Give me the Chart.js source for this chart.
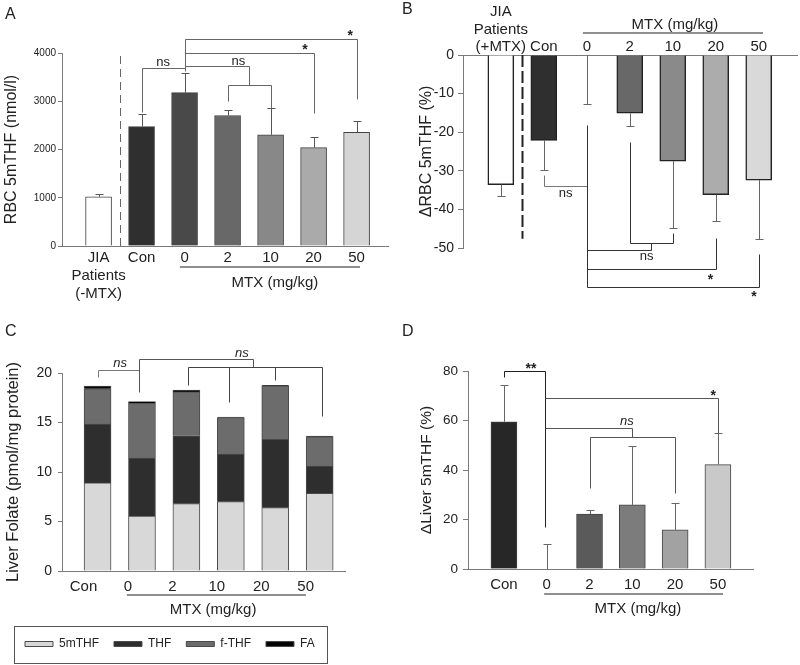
<!DOCTYPE html>
<html>
<head>
<meta charset="utf-8">
<script src="https://cdn.jsdelivr.net/npm/chart.js@4.4.0/dist/chart.umd.min.js"></script>
<style>
  html, body { margin: 0; padding: 0; background: #fff; }
  #fig { position: relative; width: 800px; height: 665px; font-family: "Liberation Sans", Arial, sans-serif; }
  #fig canvas { position: absolute; }
  .tag { position: absolute; font-size: 16px; line-height: 16px; color: #222; }
</style>
</head>
<body>
<div id="fig">
  <canvas id="cA" width="400" height="320" style="left:0;top:0"></canvas>
  <canvas id="cB" width="400" height="320" style="left:400px;top:0"></canvas>
  <canvas id="cC" width="400" height="345" style="left:0;top:320px"></canvas>
  <canvas id="cD" width="400" height="300" style="left:400px;top:320px"></canvas>
  <div class="tag" style="left:5px;top:6px">A</div>
  <div class="tag" style="left:402px;top:1px">B</div>
  <div class="tag" style="left:5px;top:323px">C</div>
  <div class="tag" style="left:402px;top:323px">D</div>
</div>
<script>
const FONT = '"Liberation Sans", Arial, sans-serif';
Chart.defaults.font.family = FONT;
Chart.defaults.color = '#222';
Chart.defaults.animation = false;

// --- Panel A: RBC 5mTHF (nmol/l)
const labelsA = [['JIA', 'Patients', '(-MTX)'], 'Con', '0', '2', '10', '20', '50'];
const rbcA = [1020, 2475, 3180, 2705, 2305, 2040, 2355];
const rbcErrA = [60, 255, 415, 115, 550, 215, 245];

// --- Panel B: change in RBC 5mTHF (%)
const labelsB = [['JIA', 'Patients', '(+MTX)'], 'Con', '0', '2', '10', '20', '50'];
const rbcB = [-33.6, -22.1, 0, -15.1, -27.5, -36.2, -32.4];
const rbcErrB = [2.9, 7.7, 12.8, 3.3, 17.3, 6.9, 15.2];

// --- Panel C: liver folate (pmol/mg protein), stacked
const labelsC = ['Con', '0', '2', '10', '20', '50'];
const mthfC = [8.9, 5.55, 6.8, 7.0, 6.4, 7.85];
const thfC = [5.95, 5.85, 6.85, 4.8, 6.9, 2.75];
const fthfC = [3.55, 5.55, 4.45, 3.7, 5.4, 2.95];
const faC = [0.27, 0.17, 0.17, 0.06, 0.06, 0.08];

// --- Panel D: change in liver 5mTHF (%)
const labelsD = ['Con', '0', '2', '10', '20', '50'];
const liverD = [59.5, 0, 22.2, 25.9, 15.8, 42.2];
const liverErrD = [14.8, 10, 1.5, 23.9, 10.7, 12.6];

const greysA = ['#ffffff', '#2f2f2f', '#494949', '#686868', '#888888', '#aaaaaa', '#d5d5d5'];
const greysB = ['#ffffff', '#2f2f2f', '#ffffff', '#686868', '#8a8a8a', '#acacac', '#d9d9d9'];
const greysD = ['#272727', '#ffffff', '#5a5a5a', '#7c7c7c', '#a2a2a2', '#c9c9c9'];

const AXIS = '#7a7a7a';
const pts = (vals) => vals.map((v, i) => ({ x: i, y: v }));

function xAxis(labels, min, max, o) {
  return {
    type: 'linear', min: min, max: max, offset: false, position: o.position || 'bottom',
    afterBuildTicks: s => { s.ticks = labels.map((_, i) => ({ value: i })); },
    afterFit: s => { s.height = o.height; },
    ticks: {
      callback: v => labels[v], autoSkip: false, maxRotation: 0, minRotation: 0,
      padding: o.pad, labelOffset: o.shift || 0, color: '#222',
      font: { size: 15, lineHeight: o.lh || 1.2 }
    },
    grid: { display: false, drawTicks: false, offset: false },
    border: { color: AXIS }
  };
}

function yAxis(min, max, step, o) {
  return {
    min: min, max: max, position: 'left', stacked: !!o.stacked,
    afterFit: s => { s.width = o.width; },
    ticks: { stepSize: step, padding: o.tpad, color: '#222', font: { size: o.tick }, callback: v => String(v) },
    grid: { drawOnChartArea: false, tickLength: o.tl, color: AXIS },
    border: { color: AXIS },
    title: { display: true, text: o.title, color: '#222', font: { size: o.tsize }, padding: { top: o.titlePad, bottom: 0 } }
  };
}

// error bars, significance brackets, group underline
function marks(cfg) {
  return {
    id: 'marks',
    afterDatasetsDraw(chart) {
      const ctx = chart.ctx;
      const x = chart.scales.x, y = chart.scales.y;
      const X = v => x.getPixelForValue(v);
      const Y = v => y.getPixelForValue(v);
      const crisp = p => Math.round(p) + 0.5;
      ctx.save();
      if (cfg.sep) {
        const s = cfg.sep;
        ctx.strokeStyle = s.color; ctx.lineWidth = s.width; ctx.setLineDash(s.dash);
        ctx.beginPath();
        ctx.moveTo(crisp(X(s.at)), Y(s.from)); ctx.lineTo(crisp(X(s.at)), Y(s.to));
        ctx.stroke();
        ctx.setLineDash([]);
      }
      if (cfg.err) {
        const meta = chart.getDatasetMeta(0);
        const vals = chart.data.datasets[0].data;
        ctx.strokeStyle = cfg.errColor; ctx.lineWidth = 1;
        ctx.beginPath();
        cfg.err.forEach((e, i) => {
          const v = vals[i].y;
          const px = crisp(meta.data[i].x);
          const end = crisp(Y(v + cfg.errSign * e));
          ctx.moveTo(px, Y(v)); ctx.lineTo(px, end);
          ctx.moveTo(px - 4, end); ctx.lineTo(px + 4, end);
        });
        ctx.stroke();
      }
      (cfg.brackets || []).forEach(b => {
        ctx.strokeStyle = b.color || cfg.bracketColor;
        ctx.lineWidth = 1;
        ctx.beginPath();
        b.pts.forEach((p, k) => {
          const cx = crisp(X(p[0])), cy = crisp(Y(p[1]));
          if (k) ctx.lineTo(cx, cy); else ctx.moveTo(cx, cy);
        });
        ctx.stroke();
      });
      ctx.fillStyle = '#222'; ctx.textAlign = 'center'; ctx.textBaseline = 'middle';
      (cfg.notes || []).forEach(n => {
        ctx.font = n.font + ' ' + FONT;
        ctx.fillText(n.text, X(n.x), Y(n.y));
      });
      if (cfg.group) {
        const g = cfg.group;
        const axisY = g.top ? chart.chartArea.top : chart.chartArea.bottom;
        ctx.strokeStyle = '#6a6a6a'; ctx.lineWidth = 1.5;
        ctx.beginPath();
        ctx.moveTo(X(g.from), axisY + g.lineDy); ctx.lineTo(X(g.to), axisY + g.lineDy);
        ctx.stroke();
        ctx.font = '15px ' + FONT;
        ctx.fillText(g.text, X(g.at), axisY + g.textDy);
      }
      ctx.restore();
    }
  };
}

const legendFrame = {
  id: 'legendFrame',
  afterDraw(chart) {
    const boxes = chart.legend && chart.legend.legendHitBoxes;
    if (!boxes || !boxes.length) return;
    const ctx = chart.ctx;
    const l = Math.min(...boxes.map(b => b.left)) - 11;
    const r = Math.max(...boxes.map(b => b.left + b.width)) + 12;
    const cy = boxes[0].top + boxes[0].height / 2;
    ctx.save();
    ctx.strokeStyle = '#555'; ctx.lineWidth = 1;
    ctx.strokeRect(Math.round(l) + 0.5, Math.round(cy - 18.5) + 0.5, Math.round(r - l), 37);
    ctx.restore();
  }
};

const quiet = { legend: { display: false }, tooltip: { enabled: false } };

// Panel A
new Chart(document.getElementById('cA'), {
  type: 'bar',
  data: { datasets: [{ data: pts(rbcA), backgroundColor: greysA, borderColor: '#444', borderWidth: 1, barThickness: 26 }] },
  options: {
    responsive: false, events: [],
    layout: { padding: { top: 53, right: 12, bottom: 0, left: 0 } },
    plugins: quiet,
    scales: {
      x: xAxis(labelsA, -0.85, 6.73, { height: 74, pad: 3 }),
      y: yAxis(0, 4000, 1000, { width: 62, tick: 10, tl: 4, tpad: 2, title: 'RBC 5mTHF (nmol/l)', tsize: 16, titlePad: 2 })
    }
  },
  plugins: [marks({
    sep: { at: 0.5, from: 0, to: 4030, color: '#666', width: 1, dash: [8, 5] },
    err: rbcErrA, errSign: 1, errColor: '#555',
    bracketColor: '#666',
    brackets: [
      { pts: [[1, 2770], [1, 3688], [2, 3688]] },
      { pts: [[2, 3620], [2, 4291], [6, 4291], [6, 3043]] },
      { pts: [[2, 4000], [5, 4000], [5, 2766]] },
      { pts: [[2, 3737], [3.5, 3737], [3.5, 3328]] },
      { pts: [[3, 2995], [3, 3328], [4, 3328], [4, 2870]] }
    ],
    notes: [
      { text: 'ns', x: 1.5, y: 3800, font: '13px' },
      { text: 'ns', x: 3.25, y: 3830, font: '13px' },
      { text: '*', x: 4.8, y: 4066, font: 'bold 14px' },
      { text: '*', x: 5.85, y: 4343, font: 'bold 14px' }
    ],
    group: { from: 1.89, to: 6.08, at: 4.1, lineDy: 21, textDy: 37, text: 'MTX (mg/kg)' }
  })]
});

// Panel B
new Chart(document.getElementById('cB'), {
  type: 'bar',
  data: { datasets: [{ data: pts(rbcB), backgroundColor: greysB, borderColor: '#222', borderWidth: 1.5, barThickness: 26 }] },
  options: {
    responsive: false, events: [],
    layout: { padding: { top: 0, right: 3, bottom: 72, left: 0 } },
    plugins: quiet,
    scales: {
      x: xAxis(labelsB, -0.88, 6.89, { height: 55, pad: -1, position: 'top', lh: 1.17 }),
      y: yAxis(-50, 0, 10, { width: 63, tick: 14, tl: 5, tpad: 4, title: 'ΔRBC 5mTHF (%)', tsize: 16, titlePad: 16.5 })
    }
  },
  plugins: [marks({
    sep: { at: 0.5, from: 0, to: -47.6, color: '#222', width: 2, dash: [12, 4] },
    err: rbcErrB, errSign: -1, errColor: '#666',
    bracketColor: '#333',
    brackets: [
      { pts: [[1, -31], [1, -34], [2, -34]], color: '#777' },
      { pts: [[2, -18.2], [2, -60]] },
      { pts: [[3, -22.5], [3, -48.6], [4, -48.6], [4, -46]] },
      { pts: [[3.5, -48.6], [3.5, -50.6], [2, -50.6]] },
      { pts: [[5, -47.3], [5, -55.4], [2, -55.4]] },
      { pts: [[6, -51.5], [6, -60], [2, -60]] }
    ],
    notes: [
      { text: 'ns', x: 1.51, y: -35.9, font: '13px' },
      { text: 'ns', x: 3.39, y: -52.3, font: '13px' },
      { text: '*', x: 4.88, y: -58.4, font: 'bold 14px' },
      { text: '*', x: 5.89, y: -62.8, font: 'bold 14px' }
    ],
    group: { top: true, from: 1.91, to: 6.1, at: 4.05, lineDy: -22, textDy: -30, text: 'MTX (mg/kg)' }
  })]
});

// Panel C
const stackStyle = { borderColor: '#4a4a4a', borderWidth: 1, barThickness: 27 };
new Chart(document.getElementById('cC'), {
  type: 'bar',
  data: {
    datasets: [
      Object.assign({ label: '5mTHF', data: pts(mthfC), backgroundColor: '#d8d8d8' }, stackStyle),
      Object.assign({ label: 'THF', data: pts(thfC), backgroundColor: '#2e2e2e' }, stackStyle),
      Object.assign({ label: 'f-THF', data: pts(fthfC), backgroundColor: '#6c6c6c' }, stackStyle),
      Object.assign({ label: 'FA', data: pts(faC), backgroundColor: '#050505' }, stackStyle)
    ]
  },
  options: {
    responsive: false, events: [],
    layout: { padding: { top: 53, right: 55, bottom: 5, left: 10 } },
    plugins: {
      tooltip: { enabled: false },
      legend: {
        position: 'bottom', align: 'start',
        labels: { boxWidth: 28, boxHeight: 5, padding: 15, color: '#222', font: { size: 12 } }
      }
    },
    scales: {
      x: Object.assign(xAxis(labelsC, -0.8, 5.57, { height: 52, pad: 7, shift: -14 }), { stacked: true }),
      y: yAxis(0, 20, 5, { width: 52, tick: 14, tl: 4, tpad: 6, title: 'Liver Folate (pmol/mg protein)', tsize: 16.5, titlePad: -6.9, stacked: true })
    }
  },
  plugins: [legendFrame, marks({
    bracketColor: '#444',
    brackets: [
      { pts: [[0.02, 19.6], [0.02, 20.3], [0.94, 20.3]], color: '#777' },
      { pts: [[0.94, 18.1], [0.94, 21.4], [3.5, 21.4], [3.5, 20.57]], color: '#555' },
      { pts: [[2.04, 18.75], [2.04, 20.57], [5.05, 20.57], [5.05, 15.7]] },
      { pts: [[2.95, 20.57], [2.95, 17.1]] },
      { pts: [[4.0, 20.57], [4.0, 19.3]] }
    ],
    notes: [
      { text: 'ns', x: 0.51, y: 20.94, font: 'italic 13px' },
      { text: 'ns', x: 3.25, y: 22.0, font: 'italic 13px' }
    ],
    group: { from: 0.66, to: 4.69, at: 2.6, lineDy: 24, textDy: 39, text: 'MTX (mg/kg)' }
  })]
});

// Panel D
new Chart(document.getElementById('cD'), {
  type: 'bar',
  data: { datasets: [{ data: pts(liverD), backgroundColor: greysD, borderColor: '#444', borderWidth: 1, barThickness: 26 }] },
  options: {
    responsive: false, events: [],
    layout: { padding: { top: 51, right: 47, bottom: 0, left: 0 } },
    plugins: quiet,
    scales: {
      x: xAxis(labelsD, -0.84, 5.82, { height: 51, pad: 7 }),
      y: yAxis(0, 80, 20, { width: 68, tick: 13.5, tl: 5, tpad: 5, title: 'ΔLiver 5mTHF (%)', tsize: 15.5, titlePad: 17.5 })
    }
  },
  plugins: [marks({
    err: liverErrD, errSign: 1, errColor: '#666',
    bracketColor: '#555',
    brackets: [
      { pts: [[0, 77.5], [0, 80.1], [0.95, 80.1], [0.95, 17.1]], color: '#222' },
      { pts: [[0.95, 69.0], [5, 69.0], [5, 54.8]] },
      { pts: [[0.95, 57.1], [3, 57.1], [3, 53.5]] },
      { pts: [[2, 32.6], [2, 53.5], [4, 53.5], [4, 30.6]] }
    ],
    notes: [
      { text: '**', x: 0.63, y: 80.6, font: 'bold 14px' },
      { text: '*', x: 4.89, y: 69.8, font: 'bold 14px' },
      { text: 'ns', x: 2.87, y: 59.5, font: 'italic 13px' }
    ],
    group: { from: 0.94, to: 5.12, at: 3.13, lineDy: 25, textDy: 40, text: 'MTX (mg/kg)' }
  })]
});
</script>
</body>
</html>
